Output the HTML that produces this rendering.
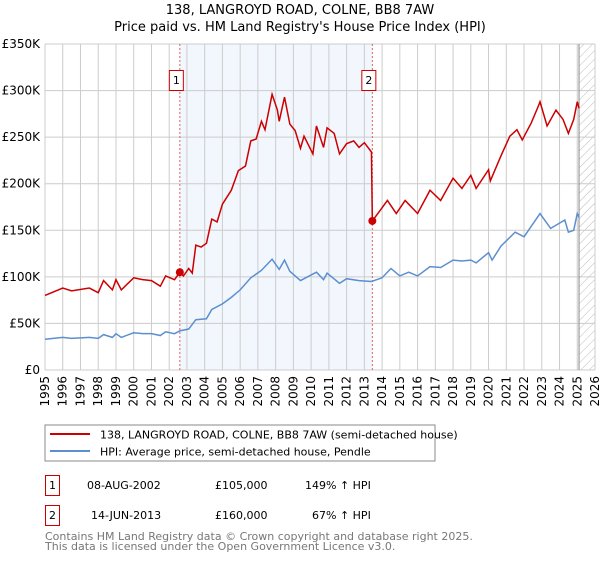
<!DOCTYPE html>
<html><head><meta charset="utf-8"><style>
body{margin:0;width:600px;height:560px;background:#fff;font-family:"DejaVu Sans","Liberation Sans",sans-serif;overflow:hidden}
svg text{font-family:"DejaVu Sans","Liberation Sans",sans-serif}
</style></head><body>
<svg id="c" width="600" height="560" xmlns="http://www.w3.org/2000/svg">
<defs><pattern id="hatch" width="6" height="6" patternUnits="userSpaceOnUse" patternTransform="rotate(45)"><line x1="0" y1="0" x2="0" y2="6" stroke="#bbb" stroke-width="1"/></pattern></defs>
<text x="300" y="14" text-anchor="middle" font-size="13">138, LANGROYD ROAD, COLNE, BB8 7AW</text>
<text x="300" y="31" text-anchor="middle" font-size="13">Price paid vs. HM Land Registry's House Price Index (HPI)</text>
<g id="plot"></g>
<rect x="45" y="425" width="390" height="36" fill="#fff" stroke="#888"/>
<line x1="50" y1="434" x2="90" y2="434" stroke="#cc0000" stroke-width="2"/>
<text x="100" y="438.5" font-size="11">138, LANGROYD ROAD, COLNE, BB8 7AW (semi-detached house)</text>
<line x1="50" y1="451" x2="90" y2="451" stroke="#5b8fd0" stroke-width="2"/>
<text x="100" y="455.5" font-size="11">HPI: Average price, semi-detached house, Pendle</text>
<g>
<rect x="45.5" y="475.5" width="14" height="20" fill="none" stroke="#cc0000"/>
<text x="52.5" y="489" text-anchor="middle" font-size="11">1</text>
<text x="87" y="489" font-size="11">08-AUG-2002</text>
<text x="215" y="489" font-size="11">£105,000</text>
<text x="305" y="489" font-size="11">149% ↑ HPI</text></g>
<g>
<rect x="45.5" y="505.5" width="14" height="20" fill="none" stroke="#cc0000"/>
<text x="52.5" y="519" text-anchor="middle" font-size="11">2</text>
<text x="91" y="519" font-size="11">14-JUN-2013</text>
<text x="215" y="519" font-size="11">£160,000</text>
<text x="312" y="519" font-size="11">67% ↑ HPI</text></g>
<text x="45" y="540" font-size="11" fill="#777">Contains HM Land Registry data © Crown copyright and database right 2025.</text>
<text x="45" y="550" font-size="11" fill="#777">This data is licensed under the Open Government Licence v3.0.</text>
</svg>
<script>
const yearTicks=[1995,1996,1997,1998,1999,2000,2001,2002,2003,2004,2005,2006,2007,2008,2009,2010,2011,2012,2013,2014,2015,2016,2017,2018,2019,2020,2021,2022,2023,2024,2025,2026];
const valueTicks=[0,50,100,150,200,250,300,350];
const valueLabels=["£0","£50K","£100K","£150K","£200K","£250K","£300K","£350K"];
const saleDates=[2002.6,2013.45];
const salePrices=[105,160];
const saleLabels=["1","2"];
const priceT=[1995,1996,1996.5,1997.5,1998,1998.3,1998.8,1999,1999.3,2000,2000.5,2001,2001.5,2001.8,2002.3,2002.6,2002.8,2003.1,2003.3,2003.5,2003.8,2004.1,2004.4,2004.7,2005,2005.5,2005.9,2006.3,2006.6,2006.9,2007.2,2007.4,2007.8,2008.1,2008.2,2008.5,2008.8,2009.1,2009.4,2009.6,2010.1,2010.3,2010.7,2010.9,2011.3,2011.6,2012,2012.4,2012.7,2013,2013.4,2013.45,2014.3,2014.8,2015.3,2016,2016.7,2017.3,2018,2018.5,2019,2019.3,2020,2020.1,2020.7,2021.2,2021.6,2021.9,2022.4,2022.8,2022.9,2023.3,2023.8,2024.2,2024.5,2024.8,2025,2025.1];
const priceV=[80,88,85,88,83,96,86,97,86,99,97,96,90,101,97,105,101,109,104,134,132,136,162,159,178,193,214,219,246,248,267,258,296,279,267,293,264,257,238,251,232,262,239,260,254,232,243,246,239,244,234,160,182,168,182,168,193,182,206,195,209,195,215,203,230,251,258,247,265,283,288,262,279,269,254,269,288,281];
const hpiT=[1995,1996,1996.5,1997.5,1998,1998.3,1998.8,1999,1999.3,2000,2000.5,2001,2001.5,2001.8,2002.3,2002.6,2003.1,2003.5,2004.1,2004.4,2005,2005.5,2006,2006.6,2007.2,2007.8,2008.2,2008.5,2008.8,2009.4,2010.3,2010.7,2010.9,2011.6,2012,2012.7,2013.4,2014,2014.5,2015,2015.5,2016,2016.7,2017.3,2018,2018.5,2019,2019.3,2020,2020.2,2020.7,2021.5,2022,2022.9,2023.5,2024.3,2024.5,2024.8,2025,2025.1];
const hpiV=[33,35,34,35,34,38,35,39,35,40,39,39,37,41,39,42,44,54,55,65,71,78,86,99,107,119,108,118,106,96,105,97,104,93,98,96,95,99,109,101,105,101,111,110,118,117,118,115,126,118,133,148,143,168,152,161,148,150,168,164];
const svg=document.getElementById('plot');
const NS='http://www.w3.org/2000/svg';
const X0=45,X1=595,Y0=370,Y1=44;
const xs=t=>X0+(t-1995)/(2026-1995)*(X1-X0);
const ys=v=>Y0-v/350*(Y0-Y1);
function mk(tag,attrs,parent){const e=document.createElementNS(NS,tag);for(const k in attrs)e.setAttribute(k,attrs[k]);(parent||svg).appendChild(e);return e;}
let e;
e=mk('rect',{x:xs(saleDates[0]),y:Y1,width:xs(saleDates[1])-xs(saleDates[0]),height:Y0-Y1,fill:'#eef3fc',opacity:0.75});


e=mk('rect',{x:xs(2025.1),y:Y1,width:X1-xs(2025.1),height:Y0-Y1,fill:'url(#hatch)'});


yearTicks.forEach(y=>{
 e=mk('line',{x1:xs(y),x2:xs(y),y1:Y1,y2:Y0,stroke:'#ccc','stroke-width':1});
 
 
 e=mk('text',{x:0,y:0,'font-size':12,'text-anchor':'end',transform:`translate(${xs(y)+4},${Y0+6}) rotate(-90)`});
 e.textContent=y;
 
 
});
valueTicks.forEach((v,i)=>{
 e=mk('line',{x1:X0,x2:X1,y1:ys(v),y2:ys(v),stroke:'#ccc','stroke-width':1});
 
 
 e=mk('text',{x:X0-5,y:ys(v)+4,'font-size':12,'text-anchor':'end'});
 e.textContent=valueLabels[i];
 
 
});
e=mk('line',{x1:xs(2025.1),x2:xs(2025.1),y1:Y1,y2:Y0,stroke:'#888','stroke-width':1});


saleDates.forEach((d,i)=>{
 e=mk('line',{x1:xs(d),x2:xs(d),y1:Y1,y2:Y0,stroke:'#e06060','stroke-width':1,'stroke-dasharray':'2,2'});
 
 
 e=mk('rect',{x:xs(d)-10.5,y:70.5,width:14,height:20,fill:'#fff',stroke:'#cc0000'});
 
 
 e=mk('text',{x:xs(d)-3.5,y:84,'font-size':11,'text-anchor':'middle'});
 e.textContent=saleLabels[i];
 
 
});
e=mk('polyline',{points:hpiT.map((t,i)=>xs(t)+','+ys(hpiV[i])).join(' '),fill:'none',stroke:'#5b8fd0','stroke-width':1.5});


e=mk('polyline',{points:priceT.map((t,i)=>xs(t)+','+ys(priceV[i])).join(' '),fill:'none',stroke:'#cc0000','stroke-width':1.5});


saleDates.forEach((d,i)=>{
 e=mk('circle',{cx:xs(d),cy:ys(salePrices[i]),r:4,fill:'#cc0000'});
 
 
});
</script>
</body></html>
